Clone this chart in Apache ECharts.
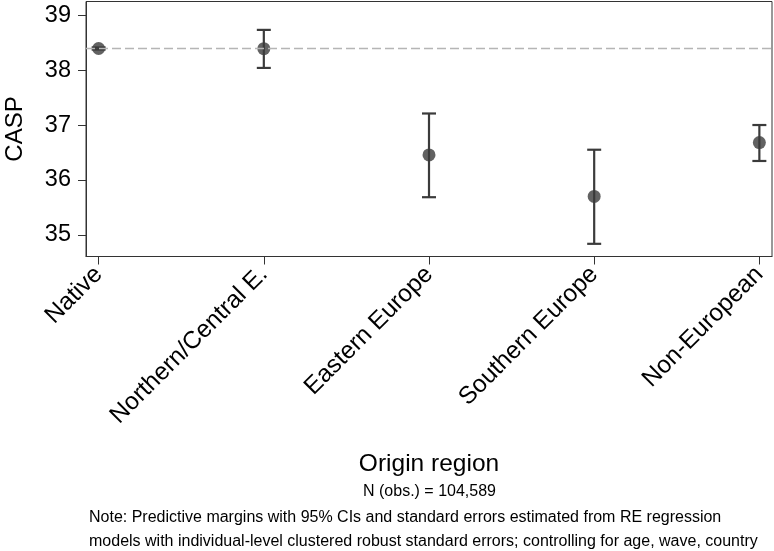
<!DOCTYPE html>
<html>
<head>
<meta charset="utf-8">
<script src="https://cdn.jsdelivr.net/npm/echarts@6/dist/echarts.min.js"></script>
<style>
html,body{margin:0;padding:0;background:#fff;}
#chart{width:774px;height:551px;}
</style>
</head>
<body>
<div id="chart"></div>
<script>
// ---- data ----
var categories = ["Native", "Northern/Central E.", "Eastern Europe", "Southern Europe", "Non-European"];
var margins = [38.394, 38.39, 36.455, 35.70, 36.68];
var ciLower = [38.375, 38.04, 35.685, 34.836, 36.345];
var ciUpper = [38.413, 38.733, 37.21, 36.55, 37.00];
var referenceLine = 38.394;
var yTicks = [35, 36, 37, 38, 39];
var xTicks = [0, 1, 2, 3, 4];
var xTitle = "Origin region";
var yTitle = "CASP";
var nNote = "N (obs.) = 104,589";
var noteLines = [
  "Note: Predictive margins with 95% CIs and standard errors estimated from RE regression",
  "models with individual-level clustered robust standard errors; controlling for age, wave, country"
];

var FONT = "'Liberation Sans', Arial, sans-serif";
var dark = "#3b3b3b";

var pointData = margins.map(function (v, i) { return [i, v]; });
var ciData = margins.map(function (v, i) { return [i, ciLower[i], ciUpper[i]]; });

var chart = echarts.init(document.getElementById('chart'), null, {renderer: 'canvas'});
chart.setOption({
  backgroundColor: '#ffffff',
  animation: false,
  textStyle: {fontFamily: FONT},
  grid: {
    left: 86, top: 1.5, width: 686, height: 255,
    containLabel: false,
    outerBoundsMode: 'none',
    show: true, borderColor: '#333333', borderWidth: 1, backgroundColor: '#ffffff'
  },
  xAxis: {
    type: 'value',
    min: -0.0765, max: 4.0765,
    splitLine: {show: false},
    axisLine: {show: true, onZero: false, lineStyle: {color: '#333333', width: 1}},
    axisTick: {show: true, customValues: xTicks, length: 8, lineStyle: {color: '#333333', width: 1}},
    axisLabel: {
      customValues: xTicks,
      rotate: 45, margin: 14,
      fontSize: 24.5, color: '#000000', fontFamily: FONT,
      formatter: function (v) { return categories[Math.round(v)]; }
    },
    name: xTitle,
    nameLocation: 'middle',
    nameGap: 195,
    nameTextStyle: {fontSize: 24.5, color: '#000000', fontFamily: FONT}
  },
  yAxis: {
    type: 'value',
    min: 34.605, max: 39.25,
    splitLine: {show: false},
    axisLine: {show: true, onZero: false, lineStyle: {color: '#333333', width: 1}},
    axisTick: {show: true, customValues: yTicks, length: 8, lineStyle: {color: '#333333', width: 1}},
    axisLabel: {
      customValues: yTicks,
      margin: 15, fontSize: 23.5, color: '#000000', fontFamily: FONT
    },
    name: yTitle,
    nameLocation: 'middle',
    nameRotate: 90,
    nameGap: 59,
    nameTextStyle: {fontSize: 24, color: '#000000', fontFamily: FONT}
  },
  series: [
    {
      type: 'custom',
      name: 'CI',
      z: 3,
      data: ciData,
      renderItem: function (params, api) {
        var x = api.value(0);
        var lo = api.coord([x, api.value(1)]);
        var hi = api.coord([x, api.value(2)]);
        var cap = 7;
        var st = {stroke: dark, lineWidth: 2.2};
        return {
          type: 'group',
          children: [
            {type: 'line', shape: {x1: lo[0], y1: lo[1], x2: hi[0], y2: hi[1]}, style: st},
            {type: 'line', shape: {x1: lo[0] - cap, y1: lo[1], x2: lo[0] + cap, y2: lo[1]}, style: st},
            {type: 'line', shape: {x1: hi[0] - cap, y1: hi[1], x2: hi[0] + cap, y2: hi[1]}, style: st}
          ]
        };
      }
    },
    {
      type: 'scatter',
      name: 'Margin',
      z: 4,
      symbol: 'circle',
      symbolSize: 13,
      itemStyle: {color: dark},
      data: pointData,
      markLine: {
        silent: true,
        symbol: ['none', 'none'],
        label: {show: false},
        lineStyle: {color: '#b5b5b5', type: [9, 4], width: 1.3},
        data: [{yAxis: referenceLine}]
      }
    }
  ],
  graphic: [
    {type: 'text', left: 363, top: 484, style: {text: nNote, fontSize: 16, fill: '#000000', fontFamily: FONT}},
    {type: 'text', left: 89, top: 510, style: {text: noteLines[0], fontSize: 16, fill: '#000000', fontFamily: FONT}},
    {type: 'text', left: 89, top: 534, style: {text: noteLines[1], fontSize: 16, fill: '#000000', fontFamily: FONT}}
  ]
});
</script>
</body>
</html>
